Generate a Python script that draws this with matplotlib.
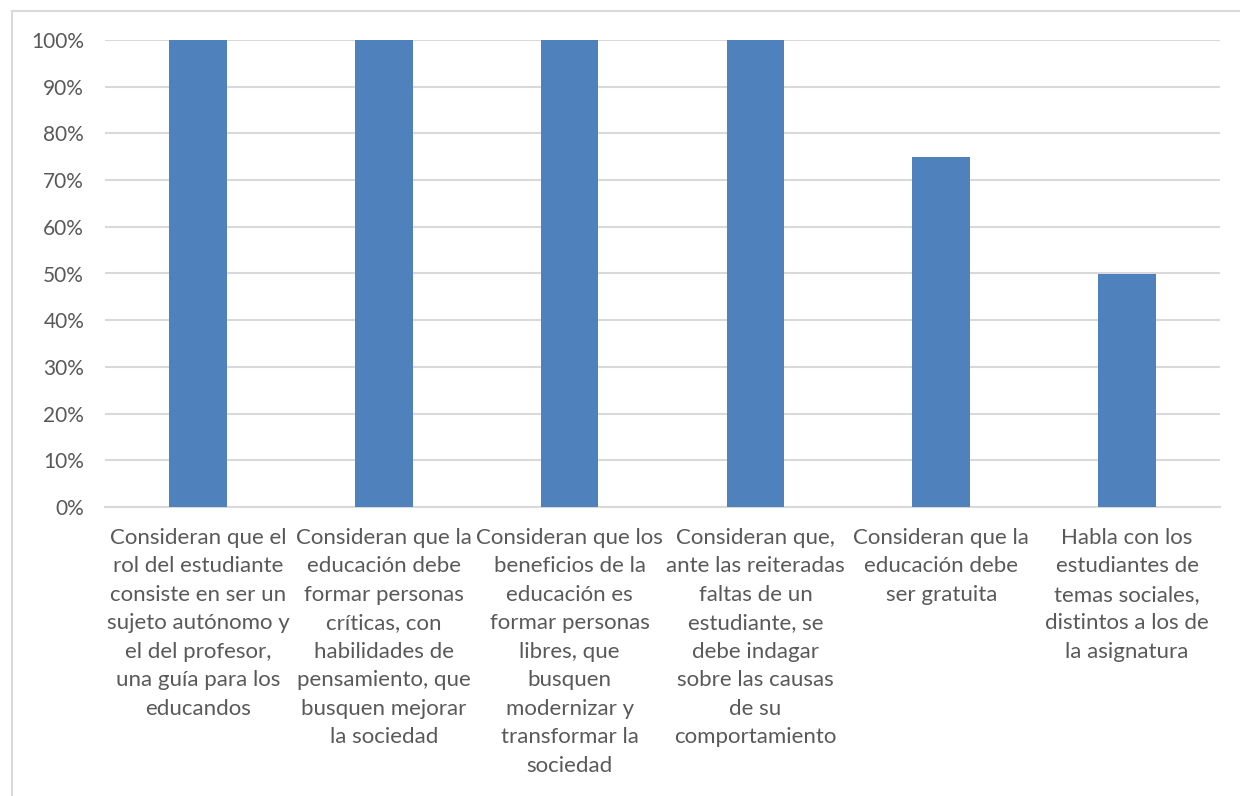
import matplotlib.pyplot as plt
import matplotlib.ticker as mtick
from matplotlib.patches import Rectangle

# THE DATA
categories = [
    'Consideran que el\nrol del estudiante\nconsiste en ser un\nsujeto autónomo y\nel del profesor,\nuna guía para los\neducandos',
    'Consideran que la\neducación debe\nformar personas\ncríticas, con\nhabilidades de\npensamiento, que\nbusquen mejorar\nla sociedad',
    'Consideran que los\nbeneficios de la\neducación es\nformar personas\nlibres, que\nbusquen\nmodernizar y\ntransformar la\nsociedad',
    'Consideran que,\nante las reiteradas\nfaltas de un\nestudiante, se\ndebe indagar\nsobre las causas\nde su\ncomportamiento',
    'Consideran que la\neducación debe\nser gratuita',
    'Habla con los\nestudiantes de\ntemas sociales,\ndistintos a los de\nla asignatura',
]
values = [1.0, 1.0, 1.0, 1.0, 0.75, 0.5]

# THE CHART
plt.rcParams['font.family'] = ['Lato', 'DejaVu Sans']
text_color = '#595959'
grid_color = '#D9D9D9'

fig = plt.figure(figsize=(12.4, 7.96), dpi=100, facecolor='w')

# Chart border (Excel style frame, cut off at right and bottom)
fig.patches.append(Rectangle((12 / 1240, -0.05), 1.1, 1 - 11 / 796 + 0.05, transform=fig.transFigure,
                             fill=False, edgecolor=grid_color, linewidth=1.5))

ax = fig.add_axes([105 / 1240, 1 - 507 / 796, 1115 / 1240, 467 / 796])
x = range(len(categories))
ax.bar(x, values, width=0.31, color='#4F81BD', zorder=3)

ax.set_xlim(-0.5, len(categories) - 0.5)
ax.set_ylim(0, 1.0)
ax.yaxis.set_major_locator(mtick.MultipleLocator(0.1))
ax.yaxis.set_major_formatter(mtick.PercentFormatter(1.0, decimals=0))
ax.grid(axis='y', color=grid_color, linewidth=1.5, zorder=0)
ax.set_axisbelow(True)

ax.set_xticks(list(x))
ax.set_xticklabels(categories, fontsize=16, color=text_color, linespacing=1.53, ha='center', va='top')
ax.tick_params(axis='x', length=0, pad=15)
ax.tick_params(axis='y', length=0, pad=15, labelsize=15, labelcolor=text_color)

for s in ['top', 'right', 'left']:
    ax.spines[s].set_visible(False)
ax.spines['bottom'].set_color(grid_color)
ax.spines['bottom'].set_linewidth(1.5)

plt.savefig('out.png', dpi=100)
